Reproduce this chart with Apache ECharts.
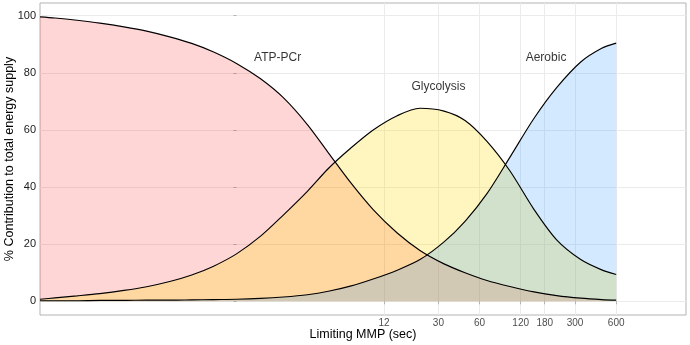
<!DOCTYPE html>
<html><head><meta charset="utf-8">
<script src="https://cdn.jsdelivr.net/npm/echarts@6/dist/echarts.min.js"></script>
<style>html,body{margin:0;padding:0;background:#fff}#c{width:690px;height:345px}</style>
</head><body><div id="c"></div>
<script>
// Limiting MMP duration (seconds) at which curve values were read
const durationSec = [0.0365, 0.047, 0.068, 0.1, 0.15, 0.22, 0.33, 0.47, 0.68, 1, 1.5, 2.2, 3.3, 4.7, 6.8, 10, 15, 22, 33, 47, 68, 100, 150, 220, 330, 470, 600];
// % contribution to total energy supply
const atpPcr     = [99.6, 99.2, 98.4, 97.4, 96.1, 94.6, 92.5, 90.3, 87.3, 83.3, 77.9, 71.3, 61.9, 52.0, 41.7, 32.1, 23.9, 17.8, 13.1, 10.0, 7.3, 5.2, 3.3, 2.0, 1.1, 0.6, 0.4];
const glycolysis = [0.7, 1.2, 1.9, 2.7, 3.8, 5.1, 7.0, 9.2, 12.3, 16.6, 22.8, 30.2, 38.5, 46.5, 53.5, 60.0, 65.0, 67.6, 66.6, 63.3, 56.0, 45.7, 32.2, 21.5, 14.6, 11.0, 9.4];
const aerobic    = [0.2, 0.2, 0.2, 0.3, 0.3, 0.4, 0.4, 0.5, 0.6, 0.7, 1.0, 1.5, 2.3, 3.5, 5.3, 7.8, 10.9, 14.6, 20.8, 28.0, 37.7, 50.4, 64.0, 74.8, 83.8, 88.6, 90.4];
// axis ticks
const xTickSec = [12, 30, 60, 120, 180, 300, 600];
const yTicks = [0, 20, 40, 60, 80, 100];
// curve annotations
const annoText = ['ATP-PCr', 'Glycolysis', 'Aerobic'];
const annoSec = [2, 30, 184];
const annoVal = [85.2, 75, 85.2];

const seriesNames = ['ATP-PCr', 'Glycolysis', 'Aerobic'];
const seriesVals = [atpPcr, glycolysis, aerobic];
const fills = ['rgba(255,0,0,0.16)', 'rgba(255,215,0,0.25)', 'rgba(30,144,255,0.2)'];
const FONT = 'Liberation Sans, Arial, sans-serif';

const lg = v => Math.log10(v);
const chart = echarts.init(document.getElementById('c'), null, {renderer: 'canvas'});
const series = seriesVals.map((vals, i) => ({
  name: seriesNames[i],
  type: 'line',
  smooth: 0.3,
  showSymbol: false,
  symbol: 'none',
  data: durationSec.map((s, k) => [lg(s), vals[k]]),
  lineStyle: {color: '#000', width: 1.15},
  areaStyle: {color: fills[i], opacity: 1},
  z: 2
}));
series.push({
  type: 'scatter',
  symbolSize: 0,
  data: annoText.map((t, i) => [lg(annoSec[i]), annoVal[i], t]),
  label: {show: true, position: 'inside', formatter: p => p.data[2], color: '#000', fontSize: 12, fontFamily: FONT},
  z: 5,
  silent: true
});

chart.setOption({
  animation: false,
  grid: {left: 40, right: 4, top: 3, bottom: 30, containLabel: false, outerBoundsMode: 'none',
         show: true, borderColor: '#b3b3b3', borderWidth: 1, backgroundColor: 'transparent'},
  xAxis: {
    type: 'value', min: -1.4378, max: 3.2889,
    name: 'Limiting MMP (sec)', nameLocation: 'middle', nameGap: 13, nameMoveOverlap: false,
    nameTextStyle: {color: '#000', fontSize: 12.5, fontFamily: FONT},
    axisLine: {show: false},
    axisTick: {show: true, length: 3, lineStyle: {color: '#b3b3b3'}, customValues: xTickSec.map(lg)},
    axisLabel: {customValues: xTickSec.map(lg), formatter: v => String(Math.round(Math.pow(10, v))), color: '#4d4d4d', fontSize: 10, margin: 3, fontFamily: FONT},
    splitLine: {show: true, lineStyle: {color: '#ebebeb', width: 1}}
  },
  yAxis: {
    type: 'value', min: -4.8, max: 104.45,
    name: '% Contribution to total energy supply', nameLocation: 'middle', nameGap: 24, nameMoveOverlap: false,
    nameTextStyle: {color: '#000', fontSize: 12.5, fontFamily: FONT},
    axisLine: {show: false},
    axisTick: {show: true, length: 3, lineStyle: {color: '#b3b3b3'}, customValues: yTicks},
    axisLabel: {customValues: yTicks, color: '#1a1a1a', fontSize: 11, margin: 4, fontFamily: FONT},
    splitLine: {show: true, lineStyle: {color: '#ebebeb', width: 1}}
  },
  series: series
});
</script>
</body></html>
